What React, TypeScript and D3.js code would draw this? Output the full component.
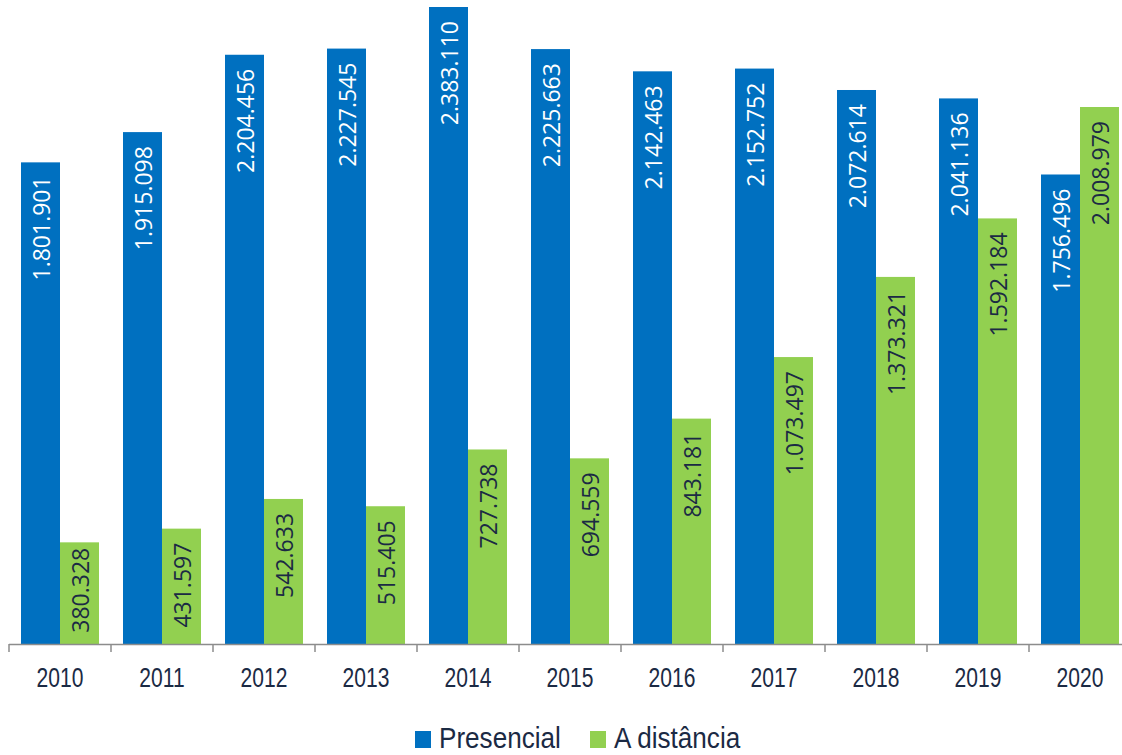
import React, { useEffect, useRef } from 'react';
import * as d3 from 'd3';

const years = ['2010', '2011', '2012', '2013', '2014', '2015', '2016', '2017', '2018', '2019', '2020'];
const presencial = [1801901, 1915098, 2204456, 2227545, 2383110, 2225663, 2142463, 2152752, 2072614, 2041136, 1756496];
const aDistancia = [380328, 431597, 542633, 515405, 727738, 694559, 843181, 1073497, 1373321, 1592184, 2008979];
const seriesNames = ['Presencial', 'A distância'];
const seriesColors = ['#0070C0', '#92D050'];
const labelColors = ['#ffffff', '#1b2a44'];

const W = 1122;
const H = 755;

const fmt = (v: number) => d3.format(',')(v).replace(/,/g, '.');

const App: React.FC = () => {
  const svgRef = useRef<SVGSVGElement>(null);

  useEffect(() => {
    document.body.style.margin = '0';
    if (!svgRef.current) return;
    const svg = d3.select(svgRef.current);
    svg.selectAll('*').remove();

    const baseY = 644;
    const x0 = d3.scaleBand<string>().domain(years).range([9, 9 + 102 * years.length]);
    const x1 = d3.scaleBand<string>().domain(seriesNames).range([12, 90]);
    const y = d3.scaleLinear().domain([0, d3.max(presencial)!]).range([baseY, 7]);

    const rows = years.map((yr, i) => ({ yr, vals: [presencial[i], aDistancia[i]] }));

    const groups = svg.append('g')
      .selectAll('g')
      .data(rows)
      .join('g')
      .attr('transform', d => `translate(${x0(d.yr)},0)`);

    groups.selectAll('rect')
      .data(d => d.vals.map((v, k) => ({ v, k })))
      .join('rect')
      .attr('x', d => x1(seriesNames[d.k])!)
      .attr('width', x1.bandwidth())
      .attr('y', d => y(d.v))
      .attr('height', d => baseY - y(d.v))
      .attr('fill', d => seriesColors[d.k]);

    // value labels, rotated inside the bar end
    const fontSize = 23;
    groups.selectAll('text.val')
      .data(d => d.vals.map((v, k) => ({ v, k })))
      .join('text')
      .attr('class', 'val')
      .each(function (d) {
        const t = d3.select(this);
        const cx = x1(seriesNames[d.k])! + x1.bandwidth() / 2 + 1;
        const top = y(d.v);
        const h = baseY - top;
        const textLen = fmt(d.v).length * 11.6;
        const off = Math.max(1, Math.min(14, h - textLen - 15));
        t.attr('transform', `translate(${cx},${top + off}) rotate(-90)`)
          .attr('text-anchor', 'end')
          .attr('dy', '0.36em')
          .style('font-family', '"Open Sans", sans-serif')
          .style('font-size', `${fontSize}px`)
          .style('fill', labelColors[d.k])
          .text(fmt(d.v));
      });

    // x axis
    const axis = svg.append('g');
    axis.append('line')
      .attr('x1', x0.range()[0]).attr('x2', x0.range()[1])
      .attr('y1', baseY + 0.5).attr('y2', baseY + 0.5)
      .attr('stroke', '#8c8c8c').attr('stroke-width', 1.5);
    axis.selectAll('line.tick')
      .data([...years, 'end'])
      .join('line')
      .attr('class', 'tick')
      .attr('x1', (d, i) => x0.range()[0] + i * x0.step())
      .attr('x2', (d, i) => x0.range()[0] + i * x0.step())
      .attr('y1', baseY).attr('y2', baseY + 8)
      .attr('stroke', '#8c8c8c').attr('stroke-width', 1.5);
    axis.selectAll('text')
      .data(years)
      .join('text')
      .attr('transform', d => `translate(${x0(d)! + x0.bandwidth() / 2},687) scale(0.78,1)`)
      .attr('text-anchor', 'middle')
      .style('font-family', '"Liberation Sans", Arial, sans-serif')
      .style('font-size', '27px')
      .style('fill', '#1b2a44')
      .text(d => d);

    // legend
    const legendItems = [
      { name: seriesNames[0], color: seriesColors[0], x: 415 },
      { name: seriesNames[1], color: seriesColors[1], x: 590 },
    ];
    const lg = svg.append('g');
    legendItems.forEach(it => {
      lg.append('rect')
        .attr('x', it.x).attr('y', 731)
        .attr('width', 16).attr('height', 17)
        .attr('fill', it.color);
      lg.append('text')
        .attr('transform', `translate(${it.x + 24},748) scale(0.9,1)`)
        .style('font-family', '"Liberation Sans", Arial, sans-serif')
        .style('font-size', '29px')
        .style('fill', '#1b2a44')
        .text(it.name);
    });
  }, []);

  return <svg ref={svgRef} width={W} height={H} style={{ display: 'block', background: '#fff' }} />;
};

export default App;
